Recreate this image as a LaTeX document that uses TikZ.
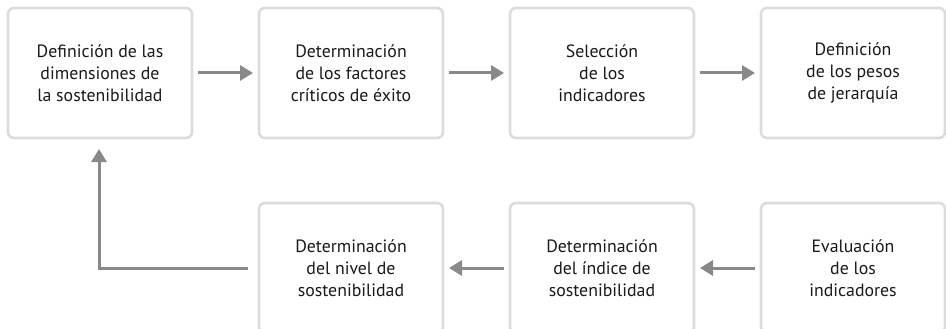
\documentclass[tikz,border=0pt]{standalone}
\usepackage{fontspec}
\setmainfont{PT Sans}
\usetikzlibrary{arrows.meta}
\definecolor{boxgray}{HTML}{DCDCDC}
\definecolor{arrgray}{HTML}{898989}
\definecolor{txt}{HTML}{1A1A1A}
\begin{document}
\begin{tikzpicture}[x=1pt,y=-1pt,
  stepbox/.style={draw=boxgray, line width=2.6pt, rounded corners=6pt, fill=white,
    minimum width=184pt, minimum height=130pt, outer sep=0pt, inner sep=0pt,
    align=center, text=txt, font=\fontsize{17.8}{21.7}\selectfont},
  arr/.style={draw=arrgray, line width=3pt, -{Triangle[length=13pt,width=15pt]},
    shorten <=6pt, shorten >=6pt}]
\useasboundingbox (0,0) rectangle (946,329);
\clip (0,0) rectangle (946,329);
\node[stepbox] (b1) at (100,73) {Definición de las\\dimensiones de\\la sostenibilidad};
\node[stepbox] (b2) at (351,73) {Determinación\\de los factores\\críticos de éxito};
\node[stepbox] (b3) at (602,73) {Selección\\de los\\indicadores};
\node[stepbox] (b4) at (853,73) {Definición\\de los pesos\\de jerarquía};
\node[stepbox] (b5) at (853,268) {Evaluación\\de los\\indicadores};
\node[stepbox] (b6) at (602,268) {Determinación\\del índice de\\sostenibilidad};
\node[stepbox] (b7) at (351,268) {Determinación\\del nivel de\\sostenibilidad};
\draw[arr] (b1) -- (b2);
\draw[arr] (b2) -- (b3);
\draw[arr] (b3) -- (b4);
\draw[arr] (b5) -- (b6);
\draw[arr] (b6) -- (b7);
\draw[arr, shorten <=11pt, shorten >=11pt] (b7.west) -| ([xshift=-1pt]b1.south);
\end{tikzpicture}
\end{document}
